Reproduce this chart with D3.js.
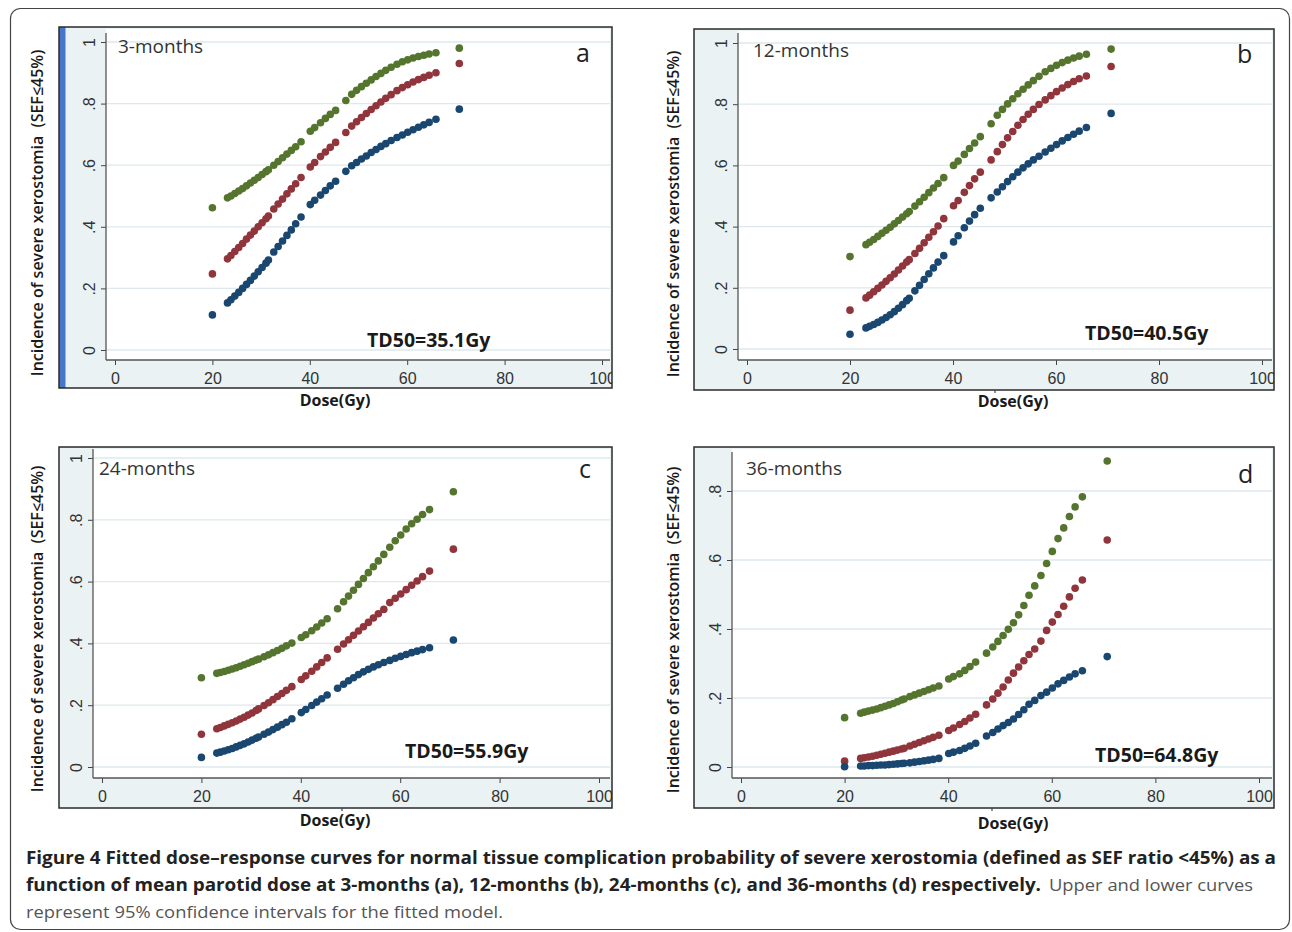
<!DOCTYPE html>
<html>
<head>
<meta charset="utf-8">
<script src="https://cdn.jsdelivr.net/npm/d3@7"></script>
<style>
	body { margin: 0; background: #fff; }
	svg text { font-family: 'Open Sans', sans-serif; }
	.tick text { font-family: 'Liberation Sans', Arial, sans-serif; font-size: 16px; fill: #333; }
	.tick line { stroke: #444; }
</style>
</head>
<body>
<svg id="fig" width="1292" height="932"></svg>
<script>

// mean parotid dose of each patient (Gy), same for all four panels
var doses = [20, 23.1, 23.8, 24.6, 25.4, 26.2, 27.0, 27.8, 28.6, 29.4, 30.2, 31.0, 31.5,
	32.6, 33.5, 34.4, 35.3, 36.2, 37.1, 38.2, 40.1, 41.0, 42.2, 43.2, 44.2, 45.3,
	47.4, 48.6, 49.6, 50.6, 51.6, 52.6, 53.6, 54.6, 55.6, 56.7,
	57.9, 59.0, 60.1, 61.2, 62.3, 63.4, 64.5, 65.9, 70.7]

// 3-months
var upper3 = [.462, .494, .500, .508, .516, .524, .533, .542, .551, .560, .570, .579, .585,
	.600, .612, .624, .636, .648, .660, .676, .710, .722, .738, .752, .765, .778,
	.810, .830, .843, .855, .866, .877, .888, .898, .908, .918,
	.928, .936, .942, .948, .953, .957, .961, .965, .980]
var fit3 = [.247, .296, .307, .320, .333, .346, .360, .373, .386, .400, .413, .426, .435,
	.458, .474, .490, .507, .523, .540, .560, .594, .609, .628, .643, .658, .674,
	.706, .727, .741, .755, .768, .781, .793, .805, .817, .829,
	.842, .852, .861, .870, .878, .885, .892, .900, .930]
var lower3 = [.114, .153, .163, .175, .187, .200, .213, .226, .240, .254, .268, .282, .292,
	.318, .336, .354, .372, .390, .410, .432, .472, .486, .503, .518, .533, .548,
	.580, .598, .609, .620, .630, .641, .651, .661, .670, .680,
	.690, .698, .707, .715, .723, .731, .739, .749, .782]

// 12-months
var upper12 = [.302, .341, .349, .358, .368, .378, .388, .398, .409, .420, .431, .442, .449,
	.467, .481, .496, .511, .526, .541, .560, .600, .614, .636, .655, .673, .694,
	.736, .764, .783, .801, .818, .834, .849, .863, .877, .891,
	.906, .917, .927, .936, .944, .951, .957, .963, .980]
var fit12 = [.127, .167, .176, .187, .198, .209, .221, .233, .245, .258, .271, .284, .292,
	.312, .329, .347, .365, .383, .402, .426, .468, .485, .512, .534, .556, .578,
	.618, .645, .668, .690, .711, .731, .750, .767, .783, .799,
	.814, .828, .841, .853, .864, .874, .883, .892, .923]
var lower12 = [.048, .069, .074, .080, .087, .095, .103, .112, .122, .133, .145, .158, .166,
	.190, .208, .227, .246, .265, .284, .305, .350, .370, .396, .418, .439, .460,
	.494, .513, .530, .547, .563, .578, .592, .605, .618, .630,
	.644, .656, .668, .680, .691, .702, .712, .724, .770]

// 24-months
var upper24 = [.289, .303, .306, .309, .313, .317, .321, .326, .331, .336, .341, .346, .349,
	.357, .363, .370, .377, .384, .392, .401, .419, .428, .441, .453, .466, .480,
	.512, .535, .553, .572, .591, .610, .629, .648, .667, .688,
	.711, .732, .751, .770, .787, .802, .817, .833, .891]
var fit24 = [.106, .124, .128, .133, .138, .143, .149, .155, .161, .168, .175, .183, .188,
	.199, .208, .218, .228, .238, .248, .260, .283, .295, .310, .324, .338, .353,
	.381, .398, .412, .426, .440, .454, .468, .482, .496, .510,
	.532, .546, .560, .574, .588, .602, .616, .634, .705]
var lower24 = [.031, .045, .048, .052, .056, .060, .065, .070, .075, .081, .087, .093, .097,
	.106, .113, .121, .129, .137, .145, .156, .176, .186, .199, .210, .221, .233,
	.255, .268, .279, .289, .299, .308, .316, .324, .331, .338,
	.345, .352, .358, .364, .370, .375, .380, .386, .411]

// 36-months
var upper36 = [.143, .156, .159, .162, .165, .168, .172, .176, .180, .184, .189, .194, .197,
	.204, .209, .214, .219, .224, .229, .235, .255, .262, .270, .280, .291, .304,
	.330, .348, .364, .381, .399, .418, .441, .468, .498, .525,
	.555, .590, .625, .662, .693, .726, .754, .783, .887]
var fit36 = [.017, .025, .027, .029, .031, .034, .037, .040, .043, .046, .049, .052, .054,
	.061, .066, .071, .076, .081, .086, .092, .106, .113, .123, .132, .142, .153,
	.180, .197, .214, .232, .252, .272, .290, .308, .326, .342,
	.365, .396, .420, .442, .466, .493, .518, .542, .658]
var lower36 = [.001, .003, .003, .004, .004, .005, .006, .006, .007, .008, .009, .010, .011,
	.012, .014, .016, .018, .020, .022, .025, .039, .043, .048, .054, .061, .069,
	.090, .100, .110, .120, .129, .139, .152, .166, .182, .193,
	.207, .217, .229, .241, .251, .261, .270, .279, .320]

var xTicks = [0, 20, 40, 60, 80, 100]
var yTicksFull = [0, .2, .4, .6, .8, 1]
var yTicks36 = [0, .2, .4, .6, .8]
var yTickLabel = function(v) { return v === 0 ? '0' : v === 1 ? '1' : String(v).replace('0.', '.') }

var panelNames = ['3-months', '12-months', '24-months', '36-months']
var panelLetters = ['a', 'b', 'c', 'd']
var td50Labels = ['TD50=35.1Gy', 'TD50=40.5Gy', 'TD50=55.9Gy', 'TD50=64.8Gy']

var colors = { upper: '#55752f', fit: '#90353b', lower: '#1a476f' }

var panels = [
	{ upper: upper3, fit: fit3, lower: lower3, yTicks: yTicksFull, yTop: 1,
		frame: [59, 27, 612, 388], left: 106, bottom: 360, right: 610, top: 29, axisTop: 33,
		xr: [115, 602], yr: [350, 42], title: [37, 213], name: [118, 53], letter: [576, 62],
		td: [367, 347], dose: [335, 406], stripe: true },
	{ upper: upper12, fit: fit12, lower: lower12, yTicks: yTicksFull, yTop: 1,
		frame: [694, 29, 1274, 390], left: 738, bottom: 360, right: 1272, top: 31, axisTop: 33,
		xr: [747, 1262], yr: [349, 43], title: [673, 214], name: [753, 57], letter: [1237, 63],
		td: [1085, 340], dose: [1013, 407], nick: 995 },
	{ upper: upper24, fit: fit24, lower: lower24, yTicks: yTicksFull, yTop: 1,
		frame: [59, 447, 612, 808], left: 93, bottom: 778, right: 610, top: 449, axisTop: 449,
		xr: [102, 599], yr: [767, 458], title: [37, 629], name: [99, 475], letter: [579, 478],
		td: [405, 758], dose: [335, 826], nick: 342 },
	{ upper: upper36, fit: fit36, lower: lower36, yTicks: yTicks36, yTop: .8,
		frame: [694, 447, 1274, 808], left: 732, bottom: 778, right: 1272, top: 449, axisTop: 452,
		xr: [741, 1259], yr: [767, 491], title: [673, 630], name: [746, 475], letter: [1238, 483],
		td: [1095, 762], dose: [1013, 829], nick: 992 }
]

var svg = d3.select('#fig')

svg.append('rect')
	.attr('x', 0).attr('y', 0).attr('width', 1292).attr('height', 932)
	.attr('fill', '#fff')

// figure border
svg.append('rect')
	.attr('x', 10.5).attr('y', 8.5).attr('width', 1279).attr('height', 921)
	.attr('rx', 10)
	.attr('fill', 'none')
	.attr('stroke', '#444')
	.attr('stroke-width', 1.2)

panels.forEach(function(p, i) {
	var g = svg.append('g')
	var f = p.frame

	var xScale = d3.scaleLinear().domain([0, 100]).range(p.xr)
	var yScale = d3.scaleLinear().domain([0, p.yTop]).range(p.yr)

	var clipId = 'clip' + i
	g.append('clipPath').attr('id', clipId)
		.append('rect')
		.attr('x', f[0]).attr('y', f[1]).attr('width', f[2] - f[0]).attr('height', f[3] - f[1])

	// graph region
	g.append('rect')
		.attr('x', f[0]).attr('y', f[1]).attr('width', f[2] - f[0]).attr('height', f[3] - f[1])
		.attr('fill', '#eaf2f3')

	// plot region
	g.append('rect')
		.attr('x', p.left).attr('y', p.top).attr('width', p.right - p.left).attr('height', p.bottom - p.top)
		.attr('fill', '#fff')

	// grid
	g.append('g').selectAll('line')
		.data(p.yTicks)
		.enter().append('line')
		.attr('x1', p.left).attr('x2', p.right)
		.attr('y1', function(d) { return yScale(d) })
		.attr('y2', function(d) { return yScale(d) })
		.attr('stroke', '#dde9ed')
		.attr('stroke-width', 1.3)

	var axes = g.append('g').attr('clip-path', 'url(#' + clipId + ')')

	var xAxis = axes.append('g')
		.attr('transform', 'translate(0,' + p.bottom + ')')
		.call(d3.axisBottom(xScale).tickValues(xTicks).tickSize(5).tickSizeOuter(0).tickPadding(5))
	xAxis.select('.domain').remove()
	xAxis.selectAll('text').attr('dy', '0.9em')

	var yAxis = axes.append('g')
		.attr('transform', 'translate(' + p.left + ',0)')
		.call(d3.axisLeft(yScale).tickValues(p.yTicks).tickFormat(yTickLabel).tickSize(5).tickSizeOuter(0))
	yAxis.select('.domain').remove()
	yAxis.selectAll('text')
		.attr('x', null)
		.attr('dy', '0.36em')
		.attr('text-anchor', 'middle')
		.attr('transform', 'translate(-17,0) rotate(-90)')

	// axis lines
	g.append('line')
		.attr('x1', p.left).attr('x2', p.left)
		.attr('y1', p.axisTop).attr('y2', p.bottom)
		.attr('stroke', '#555').attr('stroke-width', 1.3)
	g.append('line')
		.attr('x1', p.left).attr('x2', p.right)
		.attr('y1', p.bottom).attr('y2', p.bottom)
		.attr('stroke', '#555').attr('stroke-width', 1.3)

	// dots: upper CI, fitted curve, lower CI
	var series = [
		{ values: p.upper, color: colors.upper },
		{ values: p.fit, color: colors.fit },
		{ values: p.lower, color: colors.lower }
	]
	series.forEach(function(s) {
		g.append('g').selectAll('circle')
			.data(doses)
			.enter().append('circle')
			.attr('cx', function(d) { return xScale(d) })
			.attr('cy', function(d, j) { return yScale(s.values[j]) })
			.attr('r', 3.8)
			.attr('fill', s.color)
	})

	// texts
	g.append('text')
		.attr('x', p.name[0]).attr('y', p.name[1])
		.attr('font-size', 19).attr('fill', '#333')
		.text(panelNames[i])

	g.append('text')
		.attr('x', p.letter[0]).attr('y', p.letter[1])
		.attr('font-size', 25).attr('fill', '#222')
		.text(panelLetters[i])

	g.append('text')
		.attr('x', p.td[0]).attr('y', p.td[1])
		.attr('font-size', 19.5).attr('font-weight', 700).attr('fill', '#1a1a1a')
		.text(td50Labels[i])

	g.append('text')
		.attr('x', p.dose[0]).attr('y', p.dose[1])
		.attr('text-anchor', 'middle')
		.attr('font-size', 16).attr('font-weight', 700).attr('fill', '#1a1a1a')
		.text('Dose(Gy)')

	g.append('text')
		.attr('transform', 'translate(' + p.title[0] + ',' + p.title[1] + ') rotate(-90)')
		.attr('text-anchor', 'middle')
		.attr('dy', '0.36em')
		.attr('font-size', 16).attr('font-weight', 600).attr('fill', '#1a1a1a')
		.attr('xml:space', 'preserve')
		.text('Incidence of severe xerostomia  (SEF\u226445%)')

	if (p.stripe) {
		g.append('rect')
			.attr('x', f[0]).attr('y', f[1]).attr('width', 6.5).attr('height', f[3] - f[1])
			.attr('fill', '#4677c8')
	}

	// frame border
	g.append('rect')
		.attr('x', f[0]).attr('y', f[1]).attr('width', f[2] - f[0]).attr('height', f[3] - f[1])
		.attr('fill', 'none')
		.attr('stroke', '#2a2a2a')
		.attr('stroke-width', 1.5)

	// small stray tick under the frame, as in the original scan
	if (p.nick) {
		g.append('line')
			.attr('x1', p.nick).attr('x2', p.nick)
			.attr('y1', f[3]).attr('y2', f[3] + 3)
			.attr('stroke', '#444').attr('stroke-width', 1.2)
	}
})

// caption
var caption = svg.append('g').attr('font-size', 17)

caption.append('text')
	.attr('x', 26).attr('y', 864)
	.attr('font-weight', 700).attr('fill', '#222')
	.attr('textLength', 1250).attr('lengthAdjust', 'spacingAndGlyphs')
	.text('Figure 4 Fitted dose\u2013response curves for normal tissue complication probability of severe xerostomia (defined as SEF ratio <45%) as a')

caption.append('text')
	.attr('x', 26).attr('y', 891)
	.attr('font-weight', 700).attr('fill', '#222')
	.attr('textLength', 1015).attr('lengthAdjust', 'spacingAndGlyphs')
	.text('function of mean parotid dose at 3-months (a), 12-months (b), 24-months (c), and 36-months (d) respectively.')

caption.append('text')
	.attr('x', 1049).attr('y', 891)
	.attr('fill', '#555')
	.attr('textLength', 204).attr('lengthAdjust', 'spacingAndGlyphs')
	.text('Upper and lower curves')

caption.append('text')
	.attr('x', 26).attr('y', 918)
	.attr('fill', '#555')
	.attr('textLength', 477).attr('lengthAdjust', 'spacingAndGlyphs')
	.text('represent 95% confidence intervals for the fitted model.')

</script>
</body>
</html>
